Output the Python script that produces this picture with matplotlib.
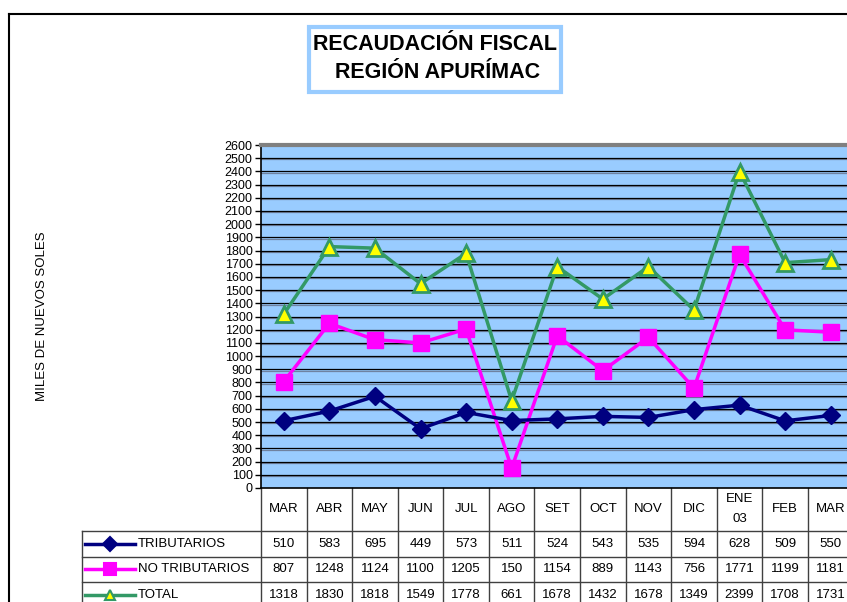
import matplotlib.pyplot as plt
import matplotlib.patheffects as pe
import matplotlib.transforms as mtransforms

plt.rcParams['font.family'] = ['Liberation Sans', 'DejaVu Sans']

months = ["MAR", "ABR", "MAY", "JUN", "JUL", "AGO", "SET", "OCT", "NOV", "DIC", "ENE\n03", "FEB", "MAR"]
tributarios = [510, 583, 695, 449, 573, 511, 524, 543, 535, 594, 628, 509, 550]
no_tributarios = [807, 1248, 1124, 1100, 1205, 150, 1154, 889, 1143, 756, 1771, 1199, 1181]
total = [1318, 1830, 1818, 1549, 1778, 661, 1678, 1432, 1678, 1349, 2399, 1708, 1731]

W, H = 847, 602
fig = plt.figure(figsize=(W / 100, H / 100), dpi=100)


def fx(px):
    return px / W


def fy(py):
    return 1 - py / H


# plot area (right side runs past the picture like in the original)
left, right, top, bottom = 261, 853.5, 145, 488
ax = fig.add_axes([fx(left), fy(bottom), fx(right - left), (bottom - top) / H])
ax.set_facecolor("#99CCFF")

x = list(range(len(months)))

# gridlines with the little 3d shadow
for g in range(100, 2600, 100):
    ax.axhline(g, color="black", lw=0.9, zorder=1,
               path_effects=[pe.SimpleLineShadow(offset=(0, -0.9), shadow_color="#6f82a0", alpha=1), pe.Normal()])

ax.plot(x, total, color="#339966", lw=2.5, marker="^", ms=11, mfc="#FFFF00", mec="#339966", mew=2, zorder=3)
ax.plot(x, no_tributarios, color="#FF00FF", lw=2.5, marker="s", ms=11, mfc="#FF00FF", mec="#FF00FF", zorder=4)
ax.plot(x, tributarios, color="#000080", lw=2.5, marker="D", ms=9, mfc="#000080", mec="#000080", zorder=5)

ax.set_xlim(-0.5, len(months) - 0.5)
ax.set_ylim(0, 2600)
ax.set_yticks(range(0, 2700, 100))
ax.tick_params(axis="y", labelsize=9, length=4, width=1, pad=2)
ax.set_xticks([])
ax.spines["top"].set_color("#808080")
ax.spines["top"].set_linewidth(3)
ax.spines["right"].set_visible(False)
ax.spines["left"].set_linewidth(1.2)
ax.spines["bottom"].set_linewidth(1.2)

fig.text(fx(42), fy(316), "MILES DE NUEVOS SOLES", rotation=90, ha="center", va="center", fontsize=9.5)

# title in box
fig.add_artist(plt.Rectangle((fx(309), fy(92)), fx(252), (92 - 27) / H, fc="white", ec="#99CCFF", lw=3))
fig.text(fx(435), fy(44), "RECAUDACIÓN FISCAL", ha="center", va="center", fontsize=15.5, fontweight="bold")
fig.text(fx(438), fy(73), "REGIÓN APURÍMAC", ha="center", va="center", fontsize=15.5, fontweight="bold")

# outer frame
fig.add_artist(plt.Line2D([fx(9), 1], [fy(13.5), fy(13.5)], color="black", lw=1.5))
fig.add_artist(plt.Line2D([fx(9), fx(9)], [fy(13.5), 0], color="black", lw=1.5))

# data table under the chart
tr = mtransforms.blended_transform_factory(ax.transData, fig.transFigure)
row_lines = [531, 557, 582]
grid_col = "#404040"
for k in range(len(months) + 1):
    ax.plot([k - 0.5, k - 0.5], [fy(bottom), 0], transform=tr, color=grid_col, lw=1, clip_on=False)
for ry in row_lines:
    fig.add_artist(plt.Line2D([fx(82), 1], [fy(ry), fy(ry)], color=grid_col, lw=1))
fig.add_artist(plt.Line2D([fx(82), fx(82)], [fy(531), 0], color=grid_col, lw=1))

for i, m in enumerate(months):
    ax.text(i, fy(509), m, transform=tr, ha="center", va="center", fontsize=9.5, linespacing=1.8)

series = [("TRIBUTARIOS", tributarios, "#000080", "D", "#000080", 7),
          ("NO TRIBUTARIOS", no_tributarios, "#FF00FF", "s", "#FF00FF", 9),
          ("TOTAL", total, "#339966", "^", "#FFFF00", 7)]
row_centers = [544, 569, 595]
for (name, vals, col, mk, fc, ms), ry in zip(series, row_centers):
    fig.add_artist(plt.Line2D([fx(85), fx(135)], [fy(ry), fy(ry)], color=col, lw=2.5))
    fig.add_artist(plt.Line2D([fx(110)], [fy(ry)], marker=mk, ms=ms, mfc=fc, mec=col, mew=1.5, lw=0))
    fig.text(fx(138), fy(ry), name, ha="left", va="center", fontsize=9.5)
    for i, v in enumerate(vals):
        ax.text(i, fy(ry), str(v), transform=tr, ha="center", va="center", fontsize=9.5)

fig.savefig("out.png", dpi=100)
